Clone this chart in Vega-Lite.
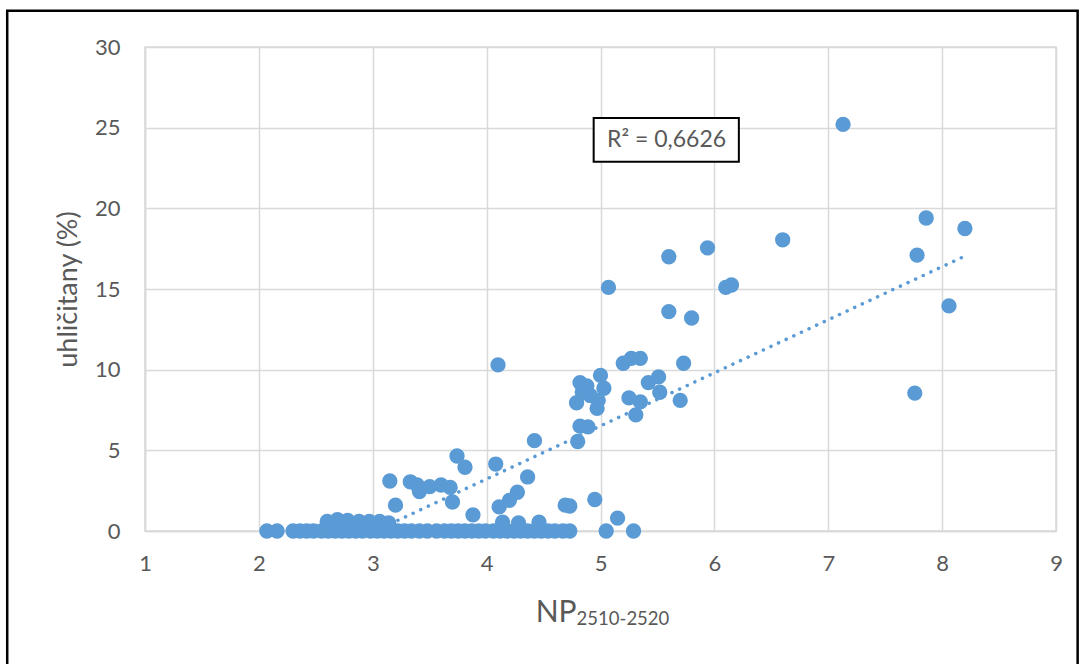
{
  "$schema": "https://vega.github.io/schema/vega-lite/v6.json",
  "width": 911,
  "height": 484,
  "autosize": "none",
  "padding": {"left": 145, "top": 47, "right": 34, "bottom": 133},
  "background": "white",
  "config": {
    "font": "Lato",
    "view": {"stroke": "#d9d9d9", "strokeWidth": 1.5},
    "axis": {
      "labelFont": "Lato", "labelFontSize": 22, "labelColor": "#595959",
      "titleFont": "Lato", "titleFontSize": 27, "titleColor": "#595959", "titleFontWeight": "normal",
      "gridColor": "#d9d9d9", "gridWidth": 1.5, "ticks": false,
      "domainColor": "#d9d9d9", "domainWidth": 1.5
    }
  },
  "datasets": {
    "points": [
      {"np": 2.07, "u": 0}, {"np": 2.16, "u": 0},
      {"np": 2.30, "u": 0}, {"np": 2.36, "u": 0}, {"np": 2.42, "u": 0}, {"np": 2.48, "u": 0},
      {"np": 2.55, "u": 0}, {"np": 2.61, "u": 0}, {"np": 2.67, "u": 0}, {"np": 2.73, "u": 0},
      {"np": 2.79, "u": 0}, {"np": 2.85, "u": 0}, {"np": 2.91, "u": 0}, {"np": 2.98, "u": 0},
      {"np": 3.04, "u": 0}, {"np": 3.10, "u": 0}, {"np": 3.16, "u": 0}, {"np": 3.22, "u": 0},
      {"np": 3.28, "u": 0}, {"np": 3.34, "u": 0}, {"np": 3.41, "u": 0}, {"np": 3.48, "u": 0},
      {"np": 3.56, "u": 0}, {"np": 3.63, "u": 0}, {"np": 3.69, "u": 0}, {"np": 3.75, "u": 0},
      {"np": 3.81, "u": 0}, {"np": 3.87, "u": 0}, {"np": 3.93, "u": 0}, {"np": 3.99, "u": 0},
      {"np": 4.06, "u": 0}, {"np": 4.12, "u": 0}, {"np": 4.18, "u": 0}, {"np": 4.24, "u": 0},
      {"np": 4.30, "u": 0}, {"np": 4.36, "u": 0}, {"np": 4.42, "u": 0}, {"np": 4.48, "u": 0},
      {"np": 4.54, "u": 0}, {"np": 4.60, "u": 0}, {"np": 4.67, "u": 0}, {"np": 4.73, "u": 0},
      {"np": 2.60, "u": 0.6}, {"np": 2.69, "u": 0.7}, {"np": 2.78, "u": 0.65}, {"np": 2.88, "u": 0.6},
      {"np": 2.97, "u": 0.6}, {"np": 3.06, "u": 0.6}, {"np": 3.14, "u": 0.5},
      {"np": 3.88, "u": 1.0}, {"np": 4.14, "u": 0.55}, {"np": 4.28, "u": 0.5}, {"np": 4.46, "u": 0.55},
      {"np": 3.15, "u": 3.1}, {"np": 3.20, "u": 1.6},
      {"np": 3.33, "u": 3.05}, {"np": 3.39, "u": 2.85}, {"np": 3.41, "u": 2.45}, {"np": 3.50, "u": 2.75},
      {"np": 3.60, "u": 2.85}, {"np": 3.68, "u": 2.7}, {"np": 3.70, "u": 1.8},
      {"np": 3.74, "u": 4.65}, {"np": 3.81, "u": 3.95}, {"np": 4.08, "u": 4.15},
      {"np": 4.36, "u": 3.35}, {"np": 4.27, "u": 2.4}, {"np": 4.20, "u": 1.9}, {"np": 4.11, "u": 1.5},
      {"np": 4.42, "u": 5.6},
      {"np": 4.69, "u": 1.6}, {"np": 4.73, "u": 1.55}, {"np": 4.95, "u": 1.95}, {"np": 5.15, "u": 0.8},
      {"np": 5.05, "u": 0}, {"np": 5.29, "u": 0},
      {"np": 4.10, "u": 10.3},
      {"np": 4.82, "u": 9.2}, {"np": 5.00, "u": 9.65}, {"np": 5.03, "u": 8.85}, {"np": 4.91, "u": 8.4},
      {"np": 4.79, "u": 7.95}, {"np": 4.97, "u": 7.6}, {"np": 4.98, "u": 8.1}, {"np": 4.82, "u": 6.5},
      {"np": 4.89, "u": 6.45}, {"np": 4.80, "u": 5.55}, {"np": 4.88, "u": 9.0}, {"np": 4.84, "u": 8.6},
      {"np": 5.20, "u": 10.4}, {"np": 5.27, "u": 10.7}, {"np": 5.35, "u": 10.7}, {"np": 5.73, "u": 10.4},
      {"np": 5.42, "u": 9.2}, {"np": 5.51, "u": 9.55}, {"np": 5.52, "u": 8.6}, {"np": 5.25, "u": 8.25},
      {"np": 5.35, "u": 8.0}, {"np": 5.31, "u": 7.2}, {"np": 5.70, "u": 8.1},
      {"np": 5.07, "u": 15.1}, {"np": 5.60, "u": 13.6}, {"np": 5.80, "u": 13.2}, {"np": 5.60, "u": 17.0},
      {"np": 5.94, "u": 17.55}, {"np": 6.10, "u": 15.1}, {"np": 6.15, "u": 15.25}, {"np": 6.60, "u": 18.05},
      {"np": 7.13, "u": 25.2}, {"np": 7.76, "u": 8.55}, {"np": 7.78, "u": 17.1}, {"np": 7.86, "u": 19.4},
      {"np": 8.06, "u": 13.95}, {"np": 8.20, "u": 18.75}
    ],
    "trend": [{"np": 3.02, "u": 0}, {"np": 8.2, "u": 17.04}],
    "label": [{"x1": 4.94, "x2": 6.215, "y1": 25.6, "y2": 22.88, "xc": 5.58, "yc": 24.24, "t": "R² = 0,6626"}],
    "xtitle": [{"x": 4.79, "y": -5.66, "t": "NP"}],
    "xtitlesub": [{"x": 4.79, "y": -5.8, "t": "2510-2520"}],
    "frame": [{"x1": -0.21, "x2": 9.19, "y1": 32.24, "y2": -8.8}]
  },
  "layer": [
    {
      "data": {"name": "points"},
      "mark": {"type": "point", "filled": true, "shape": "circle", "size": 235, "color": "#5b9bd5", "opacity": 1},
      "encoding": {
        "x": {"field": "np", "type": "quantitative",
              "scale": {"domain": [1, 9], "nice": false, "zero": false},
              "axis": {"values": [1,2,3,4,5,6,7,8,9], "format": "d", "labelPadding": 22, "labelFlush": false, "title": null}},
        "y": {"field": "u", "type": "quantitative",
              "scale": {"domain": [0, 30], "nice": false},
              "axis": {"values": [0,5,10,15,20,25,30], "format": "d", "labelPadding": 25, "title": "uhličitany (%)", "titlePadding": 12}}
      }
    },
    {
      "data": {"name": "trend"},
      "mark": {"type": "line", "color": "#5b9bd5", "strokeWidth": 3.5, "strokeCap": "round", "strokeDash": [0.1, 8.3]},
      "encoding": {
        "x": {"field": "np", "type": "quantitative"},
        "y": {"field": "u", "type": "quantitative"}
      }
    },
    {
      "data": {"name": "label"},
      "mark": {"type": "rect", "fill": "white", "stroke": "black", "strokeWidth": 2},
      "encoding": {
        "x": {"field": "x1", "type": "quantitative"}, "x2": {"field": "x2"},
        "y": {"field": "y1", "type": "quantitative"}, "y2": {"field": "y2"}
      }
    },
    {
      "data": {"name": "label"},
      "mark": {"type": "text", "font": "Lato", "fontSize": 23, "color": "#595959", "align": "center", "baseline": "middle"},
      "encoding": {
        "x": {"field": "xc", "type": "quantitative"},
        "y": {"field": "yc", "type": "quantitative"},
        "text": {"field": "t"}
      }
    },
    {
      "data": {"name": "xtitle"},
      "mark": {"type": "text", "font": "Lato", "fontSize": 30, "color": "#595959", "align": "right", "baseline": "alphabetic", "clip": false},
      "encoding": {
        "x": {"field": "x", "type": "quantitative"},
        "y": {"field": "y", "type": "quantitative"},
        "text": {"field": "t"}
      }
    },
    {
      "data": {"name": "xtitlesub"},
      "mark": {"type": "text", "font": "Lato", "fontSize": 18.5, "color": "#595959", "align": "left", "baseline": "alphabetic", "clip": false},
      "encoding": {
        "x": {"field": "x", "type": "quantitative"},
        "y": {"field": "y", "type": "quantitative"},
        "text": {"field": "t"}
      }
    },
    {
      "data": {"name": "frame"},
      "mark": {"type": "rect", "fill": null, "stroke": "black", "strokeWidth": 2.5, "clip": false},
      "encoding": {
        "x": {"field": "x1", "type": "quantitative"}, "x2": {"field": "x2"},
        "y": {"field": "y1", "type": "quantitative"}, "y2": {"field": "y2"}
      }
    }
  ]
}
